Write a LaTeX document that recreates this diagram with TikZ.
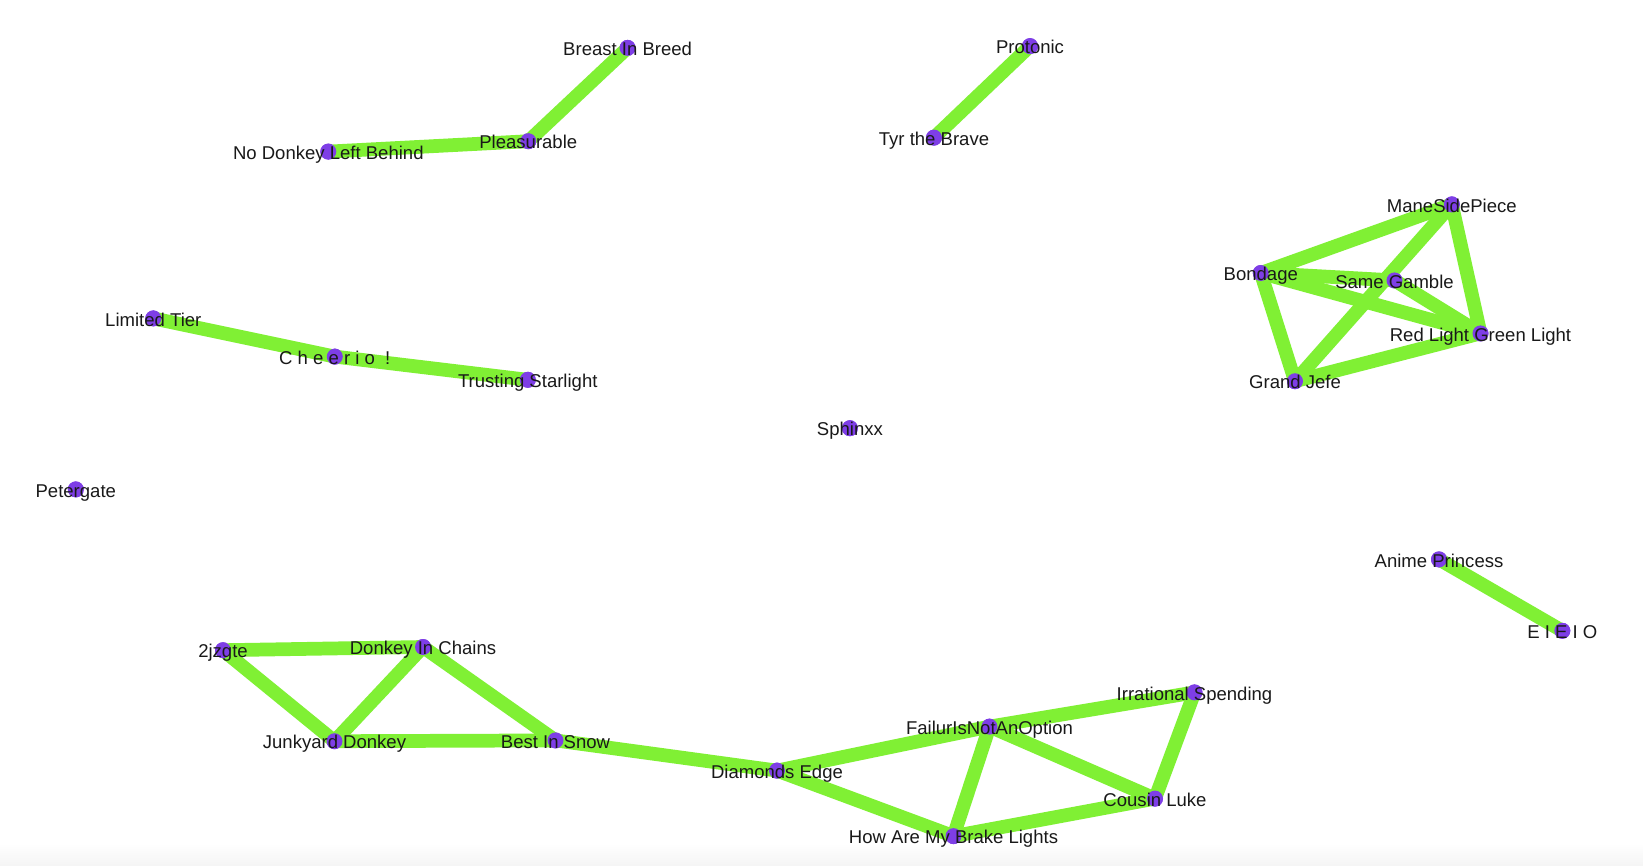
\documentclass[tikz,border=0pt]{standalone}
\usepackage{fontspec}
\setmainfont{Liberation Sans}
\definecolor{edgegreen}{RGB}{128,240,52}
\definecolor{dotpurple}{RGB}{126,62,230}
\tikzset{
  dot/.style={circle,fill=dotpurple,draw=none,minimum size=12pt,inner sep=0pt},
  lbl/.style={anchor=base,yshift=-5.8pt,inner sep=0pt,font=\fontsize{13.9pt}{16pt}\selectfont,text=black!90},
  edge/.style={draw=edgegreen,line width=10.3pt}
}
\begin{document}
\begin{tikzpicture}[x=0.75pt,y=-0.75pt]
\useasboundingbox (0,0) rectangle (1643,865);
\fill[white] (0,0) rectangle (1643,865);
\shade[top color=white,bottom color=black!4] (0,843) rectangle (1643,865);

\begin{scope}[yshift=-1.2pt]
% nodes (dots)
\node[dot] (breast) at (627.6,46.3) {};
\node[dot] (pleas) at (528.3,139.6) {};
\node[dot] (nodonkey) at (328.3,150) {};
\node[dot] (protonic) at (1030,44.5) {};
\node[dot] (tyr) at (934,136) {};
\node[dot] (limited) at (153.3,316.8) {};
\node[dot] (cheerio) at (334.8,355) {};
\node[dot] (trusting) at (527.8,378.2) {};
\node[dot] (petergate) at (75.8,487.8) {};
\node[dot] (sphinxx) at (849.9,426.6) {};
\node[dot] (mane) at (1451.8,202.8) {};
\node[dot] (bondage) at (1260.8,271.4) {};
\node[dot] (samegamble) at (1394.5,278.8) {};
\node[dot] (redlight) at (1480.5,331.8) {};
\node[dot] (grandjefe) at (1295,379.6) {};
\node[dot] (anime) at (1439,557.8) {};
\node[dot] (eieio) at (1562.3,629.2) {};
\node[dot] (jzgte) at (223,648.6) {};
\node[dot] (dic) at (423,645.4) {};
\node[dot] (junkyard) at (334.5,739.6) {};
\node[dot] (bestsnow) at (555.5,738.8) {};
\node[dot] (diamonds) at (777,769) {};
\node[dot] (failur) at (989.5,725) {};
\node[dot] (irrational) at (1194.5,690.8) {};
\node[dot] (cousin) at (1155,797) {};
\node[dot] (brake) at (953.5,834.5) {};
\end{scope}

% edges
\foreach \a/\b in {breast/pleas,pleas/nodonkey,protonic/tyr,limited/cheerio,cheerio/trusting,
  mane/bondage,mane/grandjefe,mane/redlight,bondage/samegamble,bondage/redlight,bondage/grandjefe,
  samegamble/redlight,grandjefe/redlight,anime/eieio,
  jzgte/dic,jzgte/junkyard,dic/junkyard,dic/bestsnow,junkyard/bestsnow,bestsnow/diamonds,
  diamonds/failur,diamonds/brake,failur/irrational,failur/cousin,failur/brake,irrational/cousin,cousin/brake}
  {\draw[edge] (\a.center) -- (\b.center);}

% redraw dots on top of edges
\foreach \n in {breast,pleas,nodonkey,protonic,tyr,limited,cheerio,trusting,petergate,sphinxx,
  mane,bondage,samegamble,redlight,grandjefe,anime,eieio,jzgte,dic,junkyard,bestsnow,diamonds,
  failur,irrational,cousin,brake}
  {\fill[dotpurple] (\n.center) circle (6pt);}

% labels
\node[lbl] at (breast) {Breast In Breed};
\node[lbl] at (pleas) {Pleasurable};
\node[lbl] at (nodonkey) {No Donkey Left Behind};
\node[lbl] at (protonic) {Protonic};
\node[lbl] at (tyr) {Tyr the Brave};
\node[lbl] at (limited) {Limited Tier};
\node[lbl] at (cheerio) {C h e e r i o\ \ !};
\node[lbl] at (trusting) {Trusting Starlight};
\node[lbl] at (petergate) {Petergate};
\node[lbl] at (sphinxx) {Sphinxx};
\node[lbl] at (mane) {ManeSidePiece};
\node[lbl] at (bondage) {Bondage};
\node[lbl] at (samegamble) {Same Gamble};
\node[lbl] at (redlight) {Red Light Green Light};
\node[lbl] at (grandjefe) {Grand Jefe};
\node[lbl] at (anime) {Anime Princess};
\node[lbl] at (eieio) {E I E I O};
\node[lbl] at (jzgte) {2jzgte};
\node[lbl] at (dic) {Donkey In Chains};
\node[lbl] at (junkyard) {Junkyard Donkey};
\node[lbl] at (bestsnow) {Best In Snow};
\node[lbl] at (diamonds) {Diamonds Edge};
\node[lbl] at (failur) {FailurIsNotAnOption};
\node[lbl] at (irrational) {Irrational Spending};
\node[lbl] at (cousin) {Cousin Luke};
\node[lbl] at (brake) {How Are My Brake Lights};
\end{tikzpicture}
\end{document}
